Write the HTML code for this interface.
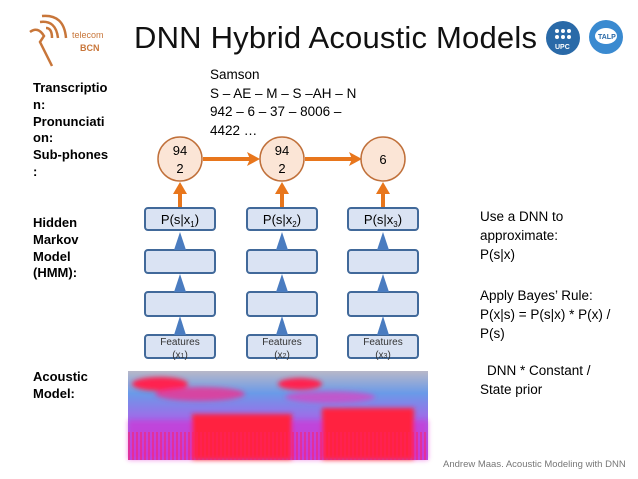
<!DOCTYPE html>
<html><head><meta charset="utf-8"><style>
body{margin:0;width:638px;height:479px;background:#fff;position:relative;overflow:hidden;font-family:"Liberation Sans",sans-serif}
.t{position:absolute;white-space:nowrap}
.b{font-weight:bold;font-size:13px;line-height:16.8px;left:33px;color:#000}
.r{left:480px;font-size:13.5px;line-height:19px;color:#000}
</style></head><body>
<svg width="638" height="479" style="position:absolute;left:0;top:0">
<g fill="none" stroke="#c8763a" stroke-width="2.5">
<path d="M30 32 Q38 26 44 36 L40 42 L52 66"/>
<path d="M40 22 Q56 20 58 38"/><path d="M42 16 Q64 14 66 38"/><path d="M46 28 Q52 28 52 38"/>
</g>
<text x="72" y="38" font-size="9" fill="#c8763a" font-family="Liberation Sans">telecom</text>
<text x="80" y="51" font-size="9" font-weight="bold" fill="#c8763a" font-family="Liberation Sans">BCN</text>
<circle cx="563" cy="38" r="17" fill="#2a6aa8"/>
<g fill="#fff"><circle cx="557" cy="31" r="2"/><circle cx="563" cy="31" r="2"/><circle cx="569" cy="31" r="2"/><circle cx="557" cy="37" r="2"/><circle cx="563" cy="37" r="2"/><circle cx="569" cy="37" r="2"/></g>
<text x="555" y="49" font-size="7" fill="#fff" font-weight="bold" font-family="Liberation Sans">UPC</text>
<circle cx="606" cy="37" r="17" fill="#3a8ad0"/>
<ellipse cx="606" cy="36" rx="11" ry="8" fill="#fff"/>
<text x="598" y="39" font-size="7" fill="#2a6aa8" font-weight="bold" font-family="Liberation Sans">TALP</text>
<defs>
<linearGradient id="sg" x1="0" y1="0" x2="0" y2="1">
<stop offset="0" stop-color="#b8b8c8"/><stop offset="0.25" stop-color="#6a9ae8"/><stop offset="0.5" stop-color="#9a70e8"/><stop offset="1" stop-color="#b050e0"/></linearGradient>
<pattern id="vs" width="4" height="10" patternUnits="userSpaceOnUse"><rect width="2" height="10" fill="#ff2060" opacity="0.5"/></pattern>
<filter id="bl"><feGaussianBlur stdDeviation="2.5"/></filter>
</defs>
<rect x="128" y="371" width="300" height="89" fill="url(#sg)"/>
<g filter="url(#bl)">
<ellipse cx="160" cy="384" rx="28" ry="7" fill="#ff2050"/>
<ellipse cx="200" cy="394" rx="45" ry="7" fill="#f03090" opacity="0.8"/>
<ellipse cx="300" cy="384" rx="22" ry="6" fill="#ff2050"/>
<ellipse cx="330" cy="397" rx="45" ry="6" fill="#e040c0" opacity="0.7"/>
<rect x="128" y="420" width="300" height="40" fill="#e020d0" opacity="0.5"/>
<rect x="192" y="414" width="100" height="46" fill="#ff2040"/>
<rect x="322" y="408" width="92" height="52" fill="#ff2040"/>
</g>
<rect x="128" y="432" width="300" height="28" fill="url(#vs)"/>
<g stroke="#e8761c" stroke-width="4" fill="#e8761c">
<line x1="203" y1="159" x2="250" y2="159"/><polygon points="260,159 247,152 250,159 247,166" stroke="none"/>
<line x1="305" y1="159" x2="352" y2="159"/><polygon points="362,159 349,152 352,159 349,166" stroke="none"/>
<line x1="180" y1="208" x2="180" y2="190"/><line x1="282" y1="208" x2="282" y2="190"/><line x1="383" y1="208" x2="383" y2="190"/>
<polygon points="180,182 173,194 187,194" stroke="none"/><polygon points="282,182 275,194 289,194" stroke="none"/><polygon points="383,182 376,194 390,194" stroke="none"/>
</g>
<g fill="#fbe5d6" stroke="#c0703a" stroke-width="1.5">
<circle cx="180" cy="159" r="22"/><circle cx="282" cy="159" r="22"/><circle cx="383" cy="159" r="22"/>
</g>
<g font-family="Liberation Sans" font-size="13" text-anchor="middle">
<text x="180" y="155">94</text><text x="180" y="173">2</text>
<text x="282" y="155">94</text><text x="282" y="173">2</text>
<text x="383" y="164">6</text>
</g>
<g fill="#dae3f3" stroke="#41699a" stroke-width="2">
<rect x="145" y="208" width="70" height="22" rx="3"/><rect x="247" y="208" width="70" height="22" rx="3"/><rect x="348" y="208" width="70" height="22" rx="3"/>
<rect x="145" y="250" width="70" height="23" rx="3"/><rect x="247" y="250" width="70" height="23" rx="3"/><rect x="348" y="250" width="70" height="23" rx="3"/>
<rect x="145" y="292" width="70" height="24" rx="3"/><rect x="247" y="292" width="70" height="24" rx="3"/><rect x="348" y="292" width="70" height="24" rx="3"/>
<rect x="145" y="335" width="70" height="23" rx="3"/><rect x="247" y="335" width="70" height="23" rx="3"/><rect x="348" y="335" width="70" height="23" rx="3"/>
</g>
<g fill="#4a7cc0">
<polygon points="180,232 174,250 186,250"/><polygon points="282,232 276,250 288,250"/><polygon points="383,232 377,250 389,250"/>
<polygon points="180,274 174,292 186,292"/><polygon points="282,274 276,292 288,292"/><polygon points="383,274 377,292 389,292"/>
<polygon points="180,316 174,335 186,335"/><polygon points="282,316 276,335 288,335"/><polygon points="383,316 377,335 389,335"/>
</g>
<g font-family="Liberation Sans" font-size="13" text-anchor="middle">
<text x="180" y="224">P(s|x<tspan font-size="8" dy="3">1</tspan><tspan dy="-3">)</tspan></text>
<text x="282" y="224">P(s|x<tspan font-size="8" dy="3">2</tspan><tspan dy="-3">)</tspan></text>
<text x="383" y="224">P(s|x<tspan font-size="8" dy="3">3</tspan><tspan dy="-3">)</tspan></text>
</g>
<g font-family="Liberation Sans" font-size="10" text-anchor="middle" fill="#333">
<text x="180" y="345">Features</text><text x="180" y="358">(x<tspan font-size="7">1</tspan>)</text>
<text x="282" y="345">Features</text><text x="282" y="358">(x<tspan font-size="7">2</tspan>)</text>
<text x="383" y="345">Features</text><text x="383" y="358">(x<tspan font-size="7">3</tspan>)</text>
</g>
</svg>
<div class="t" style="left:134px;top:20px;font-size:31px;letter-spacing:0.2px;color:#111">DNN Hybrid Acoustic Models</div>
<div class="t b" style="top:80px">Transcriptio<br>n:<br>Pronunciati<br>on:<br>Sub-phones<br>:</div>
<div class="t b" style="top:215px">Hidden<br>Markov<br>Model<br>(HMM):</div>
<div class="t b" style="top:369px">Acoustic<br>Model:</div>
<div class="t" style="left:210px;top:66px;font-size:13.5px;line-height:18.5px">Samson<br>S – AE – M – S –AH – N<br>942 – 6 – 37 – 8006 –<br>4422 …</div>
<div class="t r" style="top:207px">Use a DNN to<br>approximate:<br>P(s|x)</div>
<div class="t r" style="top:286px">Apply Bayes’ Rule:<br>P(x|s) = P(s|x) * P(x) /<br>P(s)</div>
<div class="t r" style="top:361px;left:487px">DNN * Constant /</div>
<div class="t r" style="top:380px">State prior</div>
<div class="t" style="left:443px;top:459px;font-size:9.5px;color:#777">Andrew Maas. Acoustic Modeling with DNN</div>
</body></html>
